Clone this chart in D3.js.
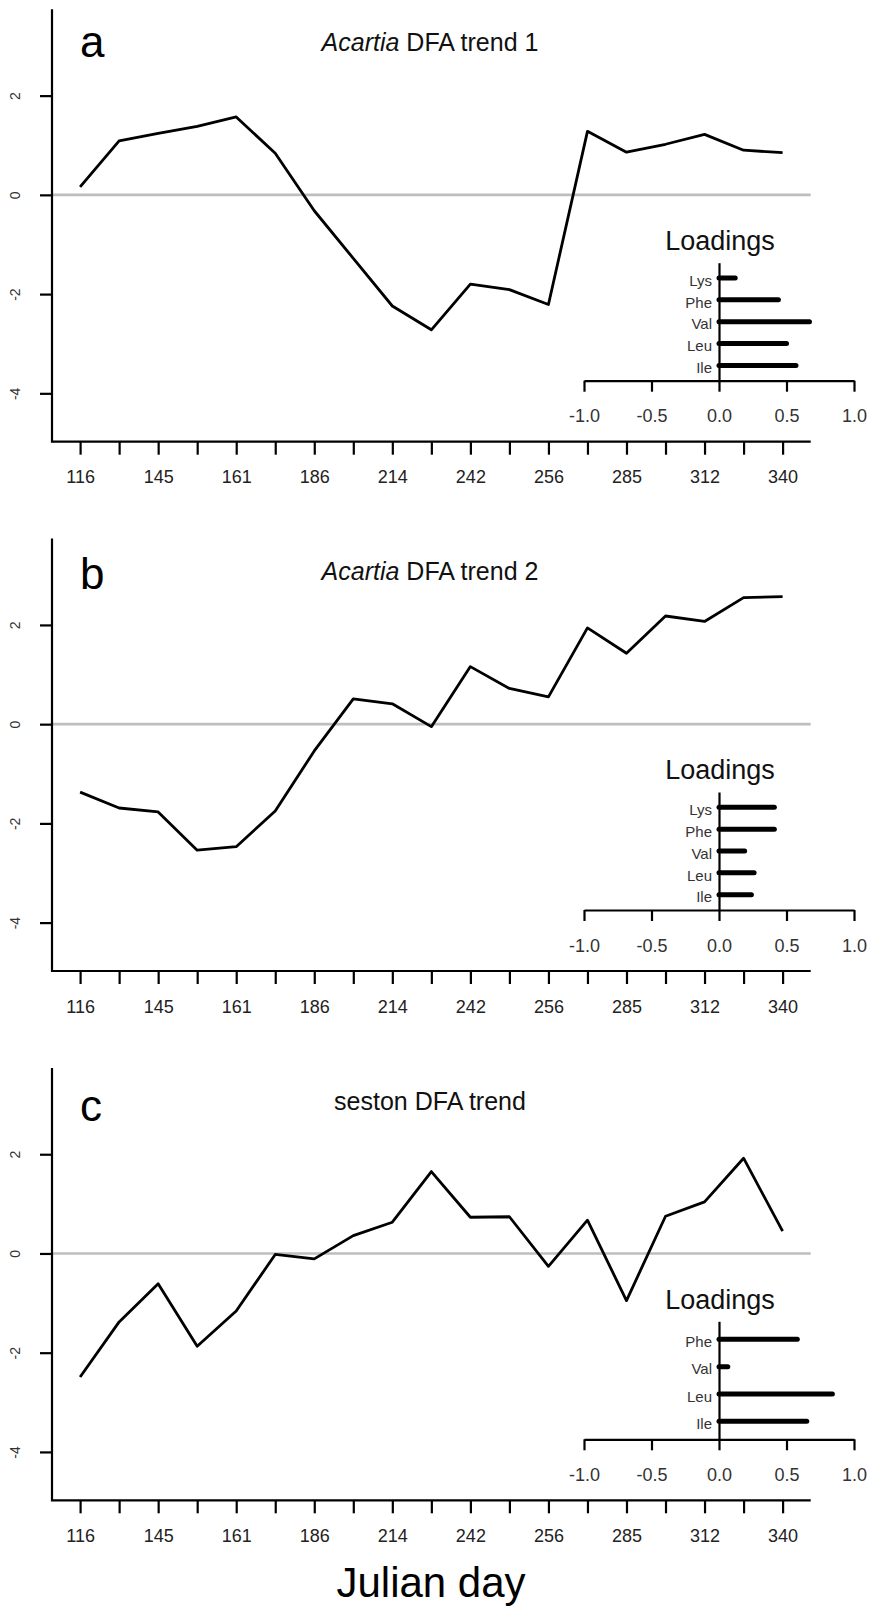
<!DOCTYPE html>
<html>
<head>
<meta charset="utf-8">
<script src="https://cdn.jsdelivr.net/npm/d3@7"></script>
<style>
  html, body { margin: 0; padding: 0; background: #fff; }
  svg { display: block; font-family: "Liberation Sans", Arial, sans-serif; }
</style>
</head>
<body>
<svg id="chart" width="869" height="1613"></svg>
<script>
// ---------- data ----------
const dayIndex = d3.range(1, 20);                       // 19 sampling dates
const dayLabels = ["116","145","161","186","214","242","256","285","312","340"]; // labelled every other tick
const yTicks = [-4, -2, 0, 2];
const loadTicks = [-1, -0.5, 0, 0.5, 1];

const trendA = [0.16, 1.09, 1.24, 1.38, 1.57, 0.84, -0.32, -1.28, -2.24, -2.72,
                -1.80, -1.91, -2.21, 1.28, 0.86, 1.02, 1.22, 0.90, 0.85];
const trendB = [-1.37, -1.69, -1.77, -2.54, -2.47, -1.75, -0.54, 0.51, 0.41, -0.05,
                1.16, 0.72, 0.55, 1.94, 1.43, 2.18, 2.07, 2.55, 2.57];
const trendC = [-2.49, -1.38, -0.61, -1.87, -1.16, -0.02, -0.11, 0.36, 0.63, 1.65,
                0.73, 0.74, -0.26, 0.67, -0.95, 0.75, 1.04, 1.92, 0.45];

const aminoA = ["Ile", "Leu", "Val", "Phe", "Lys"];
const loadA  = [0.57, 0.50, 0.67, 0.44, 0.12];
const aminoB = ["Ile", "Leu", "Val", "Phe", "Lys"];
const loadB  = [0.24, 0.26, 0.19, 0.41, 0.41];
const aminoC = ["Ile", "Leu", "Val", "Phe"];
const loadC  = [0.65, 0.84, 0.065, 0.58];

const panels = [
  { letter: "a", italic: "Acartia", title: " DFA trend 1", series: trendA, amino: aminoA, load: loadA, dy: 0,      letterY: 57 },
  { letter: "b", italic: "Acartia", title: " DFA trend 2", series: trendB, amino: aminoB, load: loadB, dy: 529.3,  letterY: 60 },
  { letter: "c", italic: "",        title: "seston DFA trend", series: trendC, amino: aminoC, load: loadC, dy: 1058.6, letterY: 62 }
];

// ---------- drawing ----------
const svg = d3.select("#chart");
const L = 52, R = 810.7, T = 9.3, B = 441.7;

const x = d3.scaleLinear().domain([0.28, 19.72]).range([L, R]);
const y = d3.scaleLinear().domain([-4.975, 3.74]).range([B, T]);
const xl = d3.scaleLinear().domain([-1, 1]).range([584, 854]);
const insetTop = 262.7, insetBot = 380.7;

panels.forEach(p => {
  const g = svg.append("g").attr("transform", `translate(0,${p.dy})`);

  // zero reference line
  g.append("line")
    .attr("x1", L).attr("x2", R)
    .attr("y1", y(0)).attr("y2", y(0))
    .attr("stroke", "#bebebe").attr("stroke-width", 2.6);

  // L-shaped box
  g.append("path")
    .attr("d", `M${L},${T}V${B}H${R}`)
    .attr("fill", "none").attr("stroke", "#000").attr("stroke-width", 2.2);

  // x axis ticks
  const xa = g.append("g").attr("transform", `translate(0,${B})`)
    .call(d3.axisBottom(x).tickValues(dayIndex).tickSize(13).tickSizeOuter(0).tickPadding(16)
      .tickFormat(d => (d % 2 === 1) ? dayLabels[(d - 1) / 2] : ""));
  xa.select(".domain").remove();
  xa.selectAll(".tick line").attr("stroke", "#000").attr("stroke-width", 2.2);
  xa.selectAll(".tick text").attr("font-size", 18).attr("fill", "#222")
    .attr("font-family", "Liberation Sans, Arial, sans-serif");

  // y axis ticks
  const ya = g.append("g").attr("transform", `translate(${L},0)`)
    .call(d3.axisLeft(y).tickValues(yTicks).tickSize(12).tickSizeOuter(0).tickFormat(d => String(d)));
  ya.select(".domain").remove();
  ya.selectAll(".tick line").attr("stroke", "#000").attr("stroke-width", 2.2);
  ya.selectAll(".tick text")
    .attr("x", null).attr("dy", null)
    .attr("transform", "translate(-37,0) rotate(-90)")
    .attr("text-anchor", "middle")
    .attr("dominant-baseline", "central")
    .attr("font-size", 14).attr("fill", "#333")
    .attr("font-family", "Liberation Sans, Arial, sans-serif");

  // trend line
  const line = d3.line().x((d, i) => x(dayIndex[i])).y(d => y(d));
  g.append("path").datum(p.series)
    .attr("d", line)
    .attr("fill", "none").attr("stroke", "#000").attr("stroke-width", 2.8)
    .attr("stroke-linejoin", "round").attr("stroke-linecap", "butt");

  // panel letter
  g.append("text").attr("x", 80).attr("y", p.letterY)
    .attr("font-size", 44).attr("fill", "#000").text(p.letter);

  // title
  const t = g.append("text").attr("x", 430).attr("y", 51)
    .attr("text-anchor", "middle").attr("font-size", 25).attr("fill", "#111");
  if (p.italic) t.append("tspan").attr("font-style", "italic").text(p.italic);
  t.append("tspan").text(p.title);

  // ---- loadings inset ----
  const n = p.amino.length;
  const yl = d3.scaleLinear().domain([0.5 - 0.04 * n, n + 0.5 + 0.04 * n]).range([insetBot, insetTop]);

  g.append("text").attr("x", 720).attr("y", 250)
    .attr("text-anchor", "middle").attr("font-size", 27).attr("fill", "#111")
    .text("Loadings");

  // bars
  g.append("g").selectAll("line").data(p.load).join("line")
    .attr("x1", xl(0)).attr("x2", d => xl(d))
    .attr("y1", (d, i) => yl(i + 1)).attr("y2", (d, i) => yl(i + 1))
    .attr("stroke", "#000").attr("stroke-width", 5).attr("stroke-linecap", "round");

  // vertical axis at 0 with amino-acid labels
  const la = g.append("g").attr("transform", `translate(${xl(0)},0)`)
    .call(d3.axisLeft(yl).tickValues(d3.range(1, n + 1)).tickSize(0).tickSizeOuter(0).tickPadding(7)
      .tickFormat(d => p.amino[d - 1]));
  la.select(".domain").attr("stroke", "#000").attr("stroke-width", 2.2);
  la.selectAll(".tick text").attr("font-size", 15).attr("fill", "#333").attr("dy", "0.48em")
    .attr("font-family", "Liberation Sans, Arial, sans-serif");

  // horizontal loadings axis
  const lx = g.append("g").attr("transform", `translate(0,${insetBot})`)
    .call(d3.axisBottom(xl).tickValues(loadTicks).tickSize(11).tickSizeOuter(0).tickPadding(18)
      .tickFormat(d => d.toFixed(1)));
  lx.select(".domain").attr("stroke", "#000").attr("stroke-width", 2.2);
  lx.selectAll(".tick line").attr("stroke", "#000").attr("stroke-width", 2.2);
  lx.selectAll(".tick text").attr("font-size", 18).attr("fill", "#333")
    .attr("font-family", "Liberation Sans, Arial, sans-serif");
});

// x-axis title
svg.append("text").attr("x", 431).attr("y", 1597)
  .attr("text-anchor", "middle").attr("font-size", 42).attr("fill", "#000")
  .text("Julian day");
</script>
</body>
</html>
